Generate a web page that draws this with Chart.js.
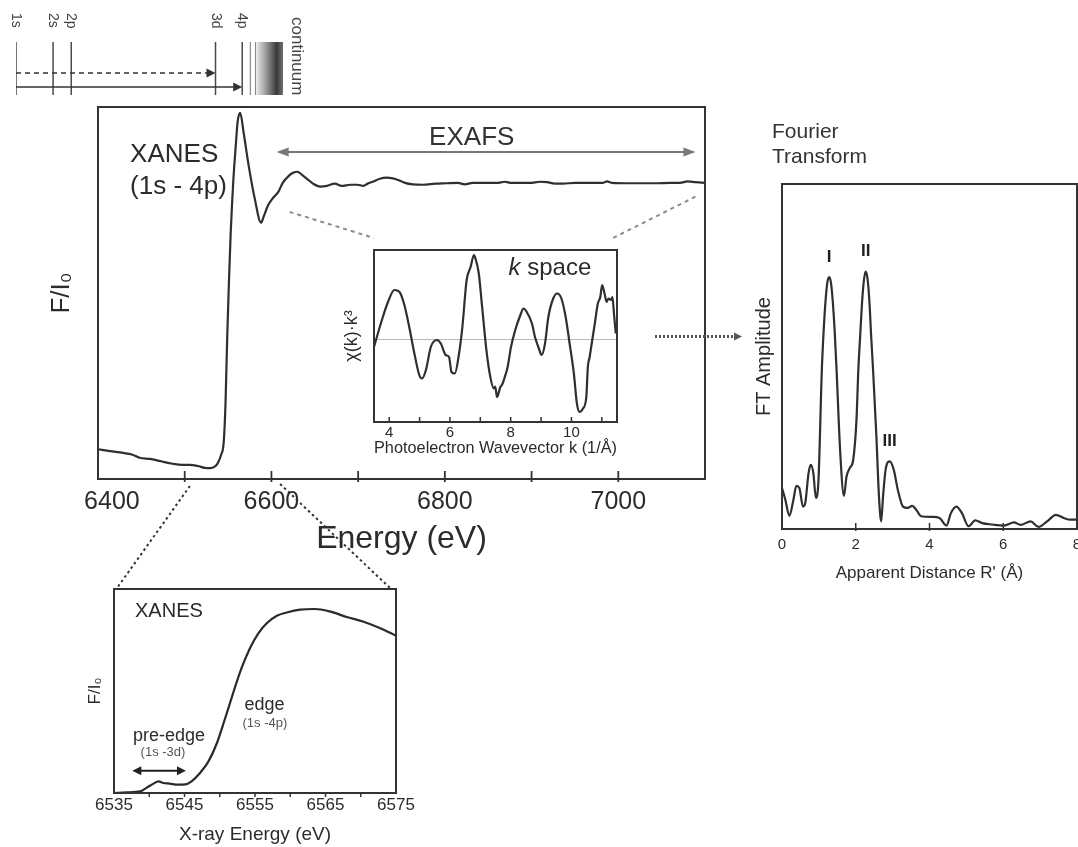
<!DOCTYPE html>
<html>
<head>
<meta charset="utf-8">
<title>X-ray absorption spectroscopy: XANES, EXAFS and Fourier transform</title>
<script src="https://cdn.jsdelivr.net/npm/chart.js@4.4.1/dist/chart.umd.min.js"></script>
<style>
  html, body { margin: 0; padding: 0; background: #fff; width: 1078px; height: 847px; overflow: hidden; }
  #stage { position: relative; width: 1078px; height: 847px; overflow: hidden; }
  #stage canvas { position: absolute; left: 0; top: 0; }
</style>
</head>
<body>
<div id="stage">
  <canvas id="levels" width="1078" height="847"></canvas>
  <canvas id="spectrum" width="1078" height="847"></canvas>
  <canvas id="kspace" width="1078" height="847"></canvas>
  <canvas id="fourier" width="1120" height="847"></canvas>
  <canvas id="xanes" width="1078" height="847"></canvas>
  <canvas id="links" width="1078" height="847"></canvas>
</div>
<script>
// ---------- data ----------
// Full absorption spectrum (fluorescence, normalised)
const energyEV = [6400, 6414, 6429, 6439, 6448, 6460, 6472, 6486, 6497, 6506,
  6515, 6523, 6529, 6535, 6538, 6542, 6545, 6547, 6549, 6551,
  6553, 6556, 6559, 6561, 6564, 6568, 6574, 6581, 6588, 6591,
  6596, 6602, 6608, 6613, 6620, 6625, 6630, 6635, 6641, 6648,
  6656, 6664, 6673, 6681, 6691, 6699, 6706, 6711, 6717, 6725,
  6733, 6740, 6746, 6754, 6763, 6775, 6789, 6802, 6815, 6823,
  6832, 6846, 6860, 6869, 6877, 6887, 6898, 6910, 6918, 6927,
  6936, 6950, 6967, 6982, 6987, 6993, 7008, 7025, 7042, 7060,
  7071, 7080, 7089, 7100];
const fluorescence = [0.080, 0.075, 0.070, 0.066, 0.057, 0.054, 0.048, 0.041, 0.038, 0.038,
  0.035, 0.030, 0.029, 0.034, 0.042, 0.065, 0.100, 0.200, 0.380, 0.530,
  0.660, 0.800, 0.900, 0.960, 0.984, 0.930, 0.839, 0.751, 0.689, 0.705,
  0.735, 0.756, 0.772, 0.796, 0.815, 0.823, 0.826, 0.818, 0.807, 0.794,
  0.786, 0.788, 0.794, 0.788, 0.791, 0.791, 0.788, 0.794, 0.799, 0.807,
  0.810, 0.808, 0.804, 0.796, 0.792, 0.791, 0.794, 0.795, 0.796, 0.792,
  0.796, 0.796, 0.796, 0.799, 0.796, 0.796, 0.796, 0.799, 0.798, 0.794,
  0.794, 0.796, 0.796, 0.796, 0.800, 0.796, 0.795, 0.795, 0.795, 0.796,
  0.796, 0.800, 0.798, 0.796];
const energyTicks = [6400, 6500, 6600, 6700, 6800, 6900, 7000, 7100];
const energyTickLabels = [6400, 6600, 6800, 7000];

// EXAFS oscillations, chi(k)*k^3
const kValues = [3.5, 3.74, 3.96, 4.17, 4.34, 4.5, 4.66, 4.83, 4.99, 5.08,
  5.21, 5.37, 5.57, 5.7, 5.86, 5.97, 6.05, 6.16, 6.3, 6.41,
  6.55, 6.68, 6.79, 6.84, 6.95, 7.06, 7.2, 7.33, 7.44, 7.49,
  7.55, 7.66, 7.72, 7.79, 7.9, 8.01, 8.15, 8.32, 8.42, 8.53,
  8.7, 8.8, 8.91, 9.02, 9.13, 9.24, 9.4, 9.53, 9.67, 9.81,
  9.94, 10.08, 10.18, 10.27, 10.38, 10.49, 10.54, 10.6, 10.65, 10.77,
  10.87, 10.95, 11.01, 11.09, 11.16, 11.22, 11.3, 11.35, 11.4, 11.46];
const chiK3 = [-0.15, 0.35, 0.75, 0.99, 0.95, 0.69, 0.25, -0.28, -0.71, -0.78,
  -0.61, -0.15, -0.01, -0.08, -0.31, -0.35, -0.65, -0.68, -0.28, 0.25,
  1.19, 1.45, 1.69, 1.62, 1.32, 0.65, -0.21, -0.75, -0.98, -0.94,
  -1.15, -0.95, -0.90, -0.78, -0.55, -0.15, 0.19, 0.49, 0.62, 0.55,
  0.32, 0.05, -0.15, -0.31, -0.08, 0.45, 0.82, 0.92, 0.82, 0.45,
  -0.08, -0.68, -1.28, -1.45, -1.38, -1.15, -0.55, -0.35, -0.15, 0.32,
  0.72, 0.85, 1.09, 0.92, 0.75, 0.82, 0.79, 0.85, 0.52, 0.12];
const kTicks = [4, 5, 6, 7, 8, 9, 10, 11];
const kTickLabels = [4, 6, 8, 10];

// Fourier transform magnitude
const rValues = [0, 0.09, 0.2, 0.31, 0.39, 0.47, 0.57, 0.63, 0.72, 0.78,
  0.85, 0.92, 0.99, 1.08, 1.13, 1.18, 1.23, 1.28, 1.33, 1.38,
  1.43, 1.48, 1.58, 1.68, 1.75, 1.84, 1.93, 2.02, 2.07, 2.12,
  2.17, 2.22, 2.27, 2.32, 2.37, 2.42, 2.47, 2.56, 2.63, 2.69,
  2.74, 2.81, 2.92, 3.03, 3.14, 3.28, 3.41, 3.53, 3.64, 3.77,
  4.09, 4.27, 4.46, 4.58, 4.73, 4.88, 5.06, 5.24, 5.43, 5.7,
  6.02, 6.29, 6.47, 6.74, 6.96, 7.19, 7.43, 7.64, 7.82, 8.0];
const ftAmplitude = [1.19, 0.85, 0.38, 0.85, 1.25, 1.19, 0.65, 0.75, 1.62, 1.86,
  1.62, 0.90, 1.43, 4.61, 5.75, 6.60, 7.15, 7.30, 7.12, 6.55,
  5.70, 4.61, 2.20, 0.96, 1.52, 1.77, 2.00, 3.17, 4.61, 5.60,
  6.55, 7.20, 7.46, 7.25, 6.60, 5.55, 4.61, 2.68, 0.94, 0.22,
  0.94, 1.72, 1.96, 1.72, 1.14, 0.65, 0.61, 0.67, 0.56, 0.37,
  0.35, 0.32, 0.10, 0.46, 0.65, 0.46, 0.08, 0.25, 0.17, 0.13,
  0.10, 0.19, 0.12, 0.22, 0.06, 0.22, 0.41, 0.32, 0.27, 0.27];
const rTicks = [0, 2, 4, 6, 8];
const shellNames = ['I', 'II', 'III'];
const shellR = [1.28, 2.27, 2.92];

// Edge region in detail
const xanesEV = [6535, 6536.8, 6538.7, 6539.6, 6540.6, 6541.3, 6542, 6542.9, 6544.1, 6545.1,
  6546, 6547.2, 6548.4, 6549.6, 6550.7, 6551.9, 6553.1, 6554.3, 6555.5, 6556.7,
  6558.1, 6559.5, 6561.4, 6563.5, 6565.6, 6568, 6570.3, 6572.7, 6575];
const xanesF = [0, 0.003, 0.008, 0.025, 0.046, 0.057, 0.049, 0.046, 0.041, 0.042,
  0.057, 0.098, 0.155, 0.245, 0.359, 0.49, 0.613, 0.711, 0.784, 0.833,
  0.869, 0.885, 0.899, 0.902, 0.89, 0.863, 0.841, 0.809, 0.771];
const xanesTicks = [6535, 6540, 6545, 6550, 6555, 6560, 6565, 6570, 6575];
const xanesTickLabels = [6535, 6545, 6555, 6565, 6575];

// Energy-level scheme (schematic energy axis)
const levelNames = ['1s', '2s', '2p', '3d', '4p'];
const levelPositions = [0, 1.0, 1.49, 5.38, 6.1];
const continuumLines = [6.32, 6.46];
const continuumBand = [6.5, 7.2];

// ---------- shared helpers ----------
const FONT = "'Liberation Sans', Arial, Helvetica, sans-serif";
const INK = '#2b2b2b';
Chart.defaults.font.family = FONT;
Chart.defaults.color = INK;

const pts = (xs, ys) => xs.map((x, i) => ({ x: x, y: ys[i] }));

function arrowHead(ctx, x, y, ang, len, half) {
  ctx.save();
  ctx.translate(x, y);
  ctx.rotate(ang);
  ctx.beginPath();
  ctx.moveTo(0, 0);
  ctx.lineTo(-len, -half);
  ctx.lineTo(-len, half);
  ctx.closePath();
  ctx.fill();
  ctx.restore();
}

function drawArrow(ctx, x1, y1, x2, y2, o) {
  const ang = Math.atan2(y2 - y1, x2 - x1);
  const len = o.head ? o.head[0] : 10, half = o.head ? o.head[1] : 4;
  ctx.strokeStyle = o.color || INK;
  ctx.fillStyle = o.color || INK;
  ctx.lineWidth = o.width || 2;
  ctx.setLineDash(o.dash || []);
  let sx = x1, sy = y1;
  if (o.heads === 'both') { sx += Math.cos(ang) * len * 0.8; sy += Math.sin(ang) * len * 0.8; }
  const ex = x2 - Math.cos(ang) * len * 0.8, ey = y2 - Math.sin(ang) * len * 0.8;
  ctx.beginPath();
  ctx.moveTo(sx, sy);
  ctx.lineTo(ex, ey);
  ctx.stroke();
  ctx.setLineDash([]);
  arrowHead(ctx, x2, y2, ang, len, half);
  if (o.heads === 'both') arrowHead(ctx, x1, y1, ang + Math.PI, len, half);
}

function drawText(ctx, it, px, py) {
  const parts = it.parts || [{ text: it.text }];
  const fonts = parts.map(p => `${p.style || it.style || 'normal'} ${p.weight || it.weight || 'normal'} ${it.size}px ${FONT}`);
  const widths = parts.map((p, i) => { ctx.font = fonts[i]; return ctx.measureText(p.text).width; });
  const total = widths.reduce((a, b) => a + b, 0);
  ctx.fillStyle = it.color || INK;
  ctx.textBaseline = it.baseline || 'alphabetic';
  ctx.textAlign = 'left';
  ctx.translate(px, py);
  if (it.rotate) ctx.rotate(it.rotate);
  let x0 = it.align === 'center' ? -total / 2 : (it.align === 'right' ? -total : 0);
  parts.forEach((p, i) => { ctx.font = fonts[i]; ctx.fillText(p.text, x0, 0); x0 += widths[i]; });
}

// Text and arrow notes placed in data coordinates of a chart
function notes(items) {
  return {
    id: 'notes',
    afterDraw(chart) {
      const ctx = chart.ctx, xs = chart.scales.x, ys = chart.scales.y;
      items.forEach(it => {
        ctx.save();
        if (it.type === 'arrow') {
          drawArrow(ctx, xs.getPixelForValue(it.x1), ys.getPixelForValue(it.y1),
                         xs.getPixelForValue(it.x2), ys.getPixelForValue(it.y2), it);
        } else {
          drawText(ctx, it, xs.getPixelForValue(it.x) + (it.dx || 0), ys.getPixelForValue(it.y) + (it.dy || 0));
        }
        ctx.restore();
      });
    }
  };
}

// Plot frame with tick marks on the x axis
function frame(o) {
  return {
    id: 'frame',
    afterDatasetsDraw(chart) {
      const ctx = chart.ctx, a = chart.chartArea, xs = chart.scales.x;
      ctx.save();
      ctx.strokeStyle = o.color || '#333';
      ctx.lineWidth = o.width || 2;
      ctx.strokeRect(a.left, a.top, a.right - a.left, a.bottom - a.top);
      ctx.lineWidth = o.tickWidth || 1.5;
      xs.ticks.forEach(t => {
        const px = xs.getPixelForValue(t.value);
        if (px <= a.left + 1 || px >= a.right - 1) return;
        ctx.beginPath();
        ctx.moveTo(px, a.bottom - o.tickIn);
        ctx.lineTo(px, a.bottom + o.tickOut);
        ctx.stroke();
      });
      ctx.restore();
    }
  };
}

function axisX(o) {
  return {
    type: 'linear', position: 'bottom', min: o.min, max: o.max,
    grid: { display: false, drawTicks: false },
    border: { display: false },
    afterBuildTicks: s => { s.ticks = o.ticks.map(v => ({ value: v })); },
    ticks: {
      autoSkip: false, maxRotation: 0,
      padding: o.pad, color: INK, font: { size: o.tickSize, lineHeight: 1 },
      // the first label sits just inside the frame, nudged right by a leading figure space pair
      callback: v => (o.labels.includes(v) ? ((o.nudgeFirst && v === o.labels[0]) ? '\u2007\u2007' : '') + v : '')
    },
    title: { display: true, text: o.title, color: INK, padding: 0, font: { size: o.titleSize, lineHeight: 1 } },
    afterFit: s => { s.height = o.height; }
  };
}

function axisY(o) {
  return {
    type: 'linear', min: o.min, max: o.max,
    grid: { display: false, drawTicks: false },
    border: { display: false },
    ticks: { display: false },
    title: { display: true, text: o.title, color: INK, padding: 0, font: { size: o.titleSize, lineHeight: 1 } },
    afterFit: s => { s.width = o.width; }
  };
}

function panel(id, box, o) {
  const cv = document.getElementById(id);
  const yW = o.yWidth || 0, xH = o.xHeight || 0;
  return new Chart(cv, {
    type: 'line',
    data: { datasets: o.datasets },
    options: {
      responsive: false, devicePixelRatio: 1, animation: false, events: [],
      layout: { padding: { left: box.l - yW, top: box.t, right: cv.width - box.r, bottom: cv.height - box.b - xH } },
      scales: { x: o.x, y: o.y },
      plugins: { legend: { display: false }, tooltip: { enabled: false } },
      elements: { point: { radius: 0 }, line: { borderColor: INK, borderWidth: 2, fill: false } }
    },
    plugins: o.plugins || []
  });
}

function curve(data, extra) {
  return Object.assign({ data: data, borderColor: INK, borderWidth: 2, pointRadius: 0,
    cubicInterpolationMode: 'monotone' }, extra || {});
}

// ---------- energy-level scheme ----------
const levels = panel('levels', { l: 16, t: 42, r: 283, b: 95 }, {
  datasets: levelPositions.map(p => ({
    data: [{ x: p, y: 0 }, { x: p, y: 1 }], borderColor: '#4a4a4a', borderWidth: 1.5, pointRadius: 0
  })),
  x: { type: 'linear', min: 0, max: 7.2, display: false },
  y: { type: 'linear', min: 0, max: 1, display: false },
  plugins: [
    {
      id: 'continuum',
      beforeDatasetsDraw(chart) {
        const ctx = chart.ctx, xs = chart.scales.x, ys = chart.scales.y;
        const top = ys.getPixelForValue(1), bot = ys.getPixelForValue(0);
        ctx.save();
        ctx.strokeStyle = '#8a8a8a';
        ctx.lineWidth = 1.2;
        continuumLines.forEach(v => {
          const px = xs.getPixelForValue(v);
          ctx.beginPath(); ctx.moveTo(px, top); ctx.lineTo(px, bot); ctx.stroke();
        });
        const x0 = xs.getPixelForValue(continuumBand[0]), x1 = xs.getPixelForValue(continuumBand[1]);
        const g = ctx.createLinearGradient(x0, 0, x1, 0);
        g.addColorStop(0, '#e2e2e2');
        g.addColorStop(0.35, '#9a9a9a');
        g.addColorStop(0.75, '#3a3a3a');
        g.addColorStop(1, '#707070');
        ctx.fillStyle = g;
        ctx.fillRect(x0, top, x1 - x0, bot - top);
        ctx.restore();
      }
    },
    notes(
      levelNames.map((n, i) => ({ text: n, x: levelPositions[i], y: 1, dy: -29, size: 14,
        color: '#444', rotate: Math.PI / 2, baseline: 'middle' }))
      .concat([
        { text: 'continuum', x: continuumBand[1], y: 1, dx: 14, dy: -25, size: 17, color: '#444',
          rotate: Math.PI / 2, baseline: 'middle' },
        { type: 'arrow', x1: levelPositions[0], y1: 0.415, x2: levelPositions[3], y2: 0.415,
          dash: [5, 4], width: 1.5, color: '#333', head: [9, 4.5] },
        { type: 'arrow', x1: levelPositions[0], y1: 0.15, x2: levelPositions[4], y2: 0.15,
          width: 1.5, color: '#333', head: [9, 4.5] }
      ])
    )
  ]
});

// ---------- full spectrum ----------
const spectrum = panel('spectrum', { l: 98, t: 107, r: 705, b: 480 }, {
  yWidth: 49, xHeight: 75,
  datasets: [curve(pts(energyEV, fluorescence), { borderColor: '#2f2f2f', borderWidth: 2.2 })],
  x: axisX({ min: 6400, max: 7100, ticks: energyTicks, labels: energyTickLabels, nudgeFirst: true,
    pad: 10.5, tickSize: 25, title: 'Energy (eV)', titleSize: 32, height: 76 }),
  y: axisY({ min: 0, max: 1, title: 'F/I₀', titleSize: 26, width: 49 }),
  plugins: [
    frame({ color: '#333', width: 2, tickIn: 8, tickOut: 3, tickWidth: 1.8 }),
    notes([
      { text: 'XANES', x: 6437, y: 0.8525, size: 26, color: '#2b2b2b' },
      { text: '(1s - 4p)', x: 6437, y: 0.767, size: 26, color: '#2b2b2b' },
      { text: 'EXAFS', x: 6831, y: 0.898, size: 26, align: 'center', color: '#333' },
      { type: 'arrow', x1: 6606, y1: 0.879, x2: 7089, y2: 0.879, heads: 'both',
        color: '#777', width: 2, head: [12, 4.5] }
    ])
  ]
});

// ---------- k-space inset ----------
const kspace = panel('kspace', { l: 373, t: 250, r: 617, b: 422 }, {
  yWidth: 30, xHeight: 34.5,
  datasets: [
    curve(pts(kValues, chiK3), { borderColor: '#2f2f2f', borderWidth: 2.2 }),
    { data: [{ x: 3.5, y: 0 }, { x: 11.5, y: 0 }], borderColor: '#b8b8b8', borderWidth: 1, pointRadius: 0 }
  ],
  x: axisX({ min: 3.5, max: 11.5, ticks: kTicks, labels: kTickLabels, pad: 3.5, tickSize: 15,
    title: 'Photoelectron Wavevector k (1/Å)', titleSize: 17, height: 34.5 }),
  y: axisY({ min: -1.65, max: 1.79, title: 'χ(k)·k³', titleSize: 18, width: 31 }),
  plugins: [
    frame({ color: '#333', width: 2, tickIn: 5, tickOut: 1, tickWidth: 1.5 }),
    notes([
      { parts: [{ text: 'k', style: 'italic' }, { text: ' space' }], x: 7.93, y: 1.286, size: 24, color: '#2b2b2b' }
    ])
  ]
});

// ---------- Fourier transform ----------
const fourier = panel('fourier', { l: 782, t: 184, r: 1077, b: 529 }, {
  yWidth: 28, xHeight: 52.5,
  datasets: [curve(pts(rValues, ftAmplitude), { borderColor: '#2f2f2f', borderWidth: 2.2 })],
  x: axisX({ min: 0, max: 8, ticks: rTicks, labels: rTicks, pad: 8.5, tickSize: 15,
    title: "Apparent Distance R' (Å)", titleSize: 17, height: 52.5 }),
  y: axisY({ min: 0, max: 10, title: 'FT Amplitude', titleSize: 20, width: 28 }),
  plugins: [
    frame({ color: '#333', width: 2, tickIn: 6, tickOut: 2, tickWidth: 1.5 }),
    {
      id: 'shells',
      afterDraw(chart) {
        const ctx = chart.ctx, xs = chart.scales.x, ys = chart.scales.y;
        shellNames.forEach((n, i) => {
          const j = rValues.indexOf(shellR[i]);
          ctx.save();
          drawText(ctx, { text: n, size: 17, weight: 'bold', align: 'center', baseline: 'middle', color: '#222' },
            xs.getPixelForValue(shellR[i]), ys.getPixelForValue(ftAmplitude[j]) - 20);
          ctx.restore();
        });
      }
    },
    notes([
      { text: 'Fourier', x: -0.27, y: 11.33, size: 21, color: '#333' },
      { text: 'Transform', x: -0.27, y: 10.61, size: 21, color: '#333' }
    ])
  ]
});

// ---------- edge region in detail ----------
const xanes = panel('xanes', { l: 114, t: 589, r: 396, b: 793 }, {
  yWidth: 27.5, xHeight: 51.5,
  datasets: [curve(pts(xanesEV, xanesF), { borderColor: '#2a2a2a', borderWidth: 2.2 })],
  x: axisX({ min: 6535, max: 6575, ticks: xanesTicks, labels: xanesTickLabels, pad: 3.5, tickSize: 17,
    title: 'X-ray Energy (eV)', titleSize: 19, height: 51.5 }),
  y: axisY({ min: 0, max: 1, title: 'F/I₀', titleSize: 17, width: 27.5 }),
  plugins: [
    frame({ color: '#333', width: 2, tickIn: 1, tickOut: 4, tickWidth: 1.5 }),
    notes([
      { text: 'XANES', x: 6537.98, y: 0.864, size: 20, color: '#2b2b2b' },
      { text: 'pre-edge', x: 6542.8, y: 0.256, size: 18, align: 'center', color: '#2b2b2b' },
      { text: '(1s -3d)', x: 6541.95, y: 0.198, size: 13, align: 'center', baseline: 'middle', color: '#555' },
      { text: 'edge', x: 6556.35, y: 0.408, size: 18, align: 'center', color: '#2b2b2b' },
      { text: '(1s -4p)', x: 6556.4, y: 0.340, size: 13, align: 'center', baseline: 'middle', color: '#555' },
      { type: 'arrow', x1: 6537.6, y1: 0.109, x2: 6545.2, y2: 0.109, heads: 'both',
        color: '#222', width: 2, head: [9, 4.5] }
    ])
  ]
});

// ---------- guide lines between panels ----------
(function drawLinks() {
  const ctx = document.getElementById('links').getContext('2d');
  const sx = spectrum.scales.x, sy = spectrum.scales.y, sa = spectrum.chartArea;
  const ka = kspace.chartArea, fa = fourier.chartArea, xa = xanes.chartArea;

  function seg(x1, y1, x2, y2, color, dash, width) {
    ctx.save();
    ctx.strokeStyle = color; ctx.lineWidth = width; ctx.setLineDash(dash);
    ctx.beginPath(); ctx.moveTo(x1, y1); ctx.lineTo(x2, y2); ctx.stroke();
    ctx.restore();
  }

  // EXAFS window -> k-space inset
  seg(sx.getPixelForValue(6621), sy.getPixelForValue(0.718), ka.left, ka.top - 12, '#8c8c8c', [4, 4], 2);
  seg(sx.getPixelForValue(7089), sy.getPixelForValue(0.759), ka.right - 4, ka.top - 12, '#8c8c8c', [4, 4], 2);

  // edge window -> XANES detail panel
  seg(sx.getPixelForValue(6506), sa.bottom + 7, xa.left + 3, xa.top - 1, '#333', [2.5, 3], 2);
  seg(sx.getPixelForValue(6610), sa.bottom + 5, xa.right - 6, xa.top - 1, '#333', [2.5, 3], 2);

  // k-space -> Fourier transform
  const y0 = kspace.scales.y.getPixelForValue(0) - 3;
  ctx.save();
  drawArrow(ctx, ka.right + 38, y0, fa.left - 40, y0, { color: '#555', width: 3, dash: [2, 2], head: [8, 4] });
  ctx.restore();
})();
</script>
</body>
</html>
